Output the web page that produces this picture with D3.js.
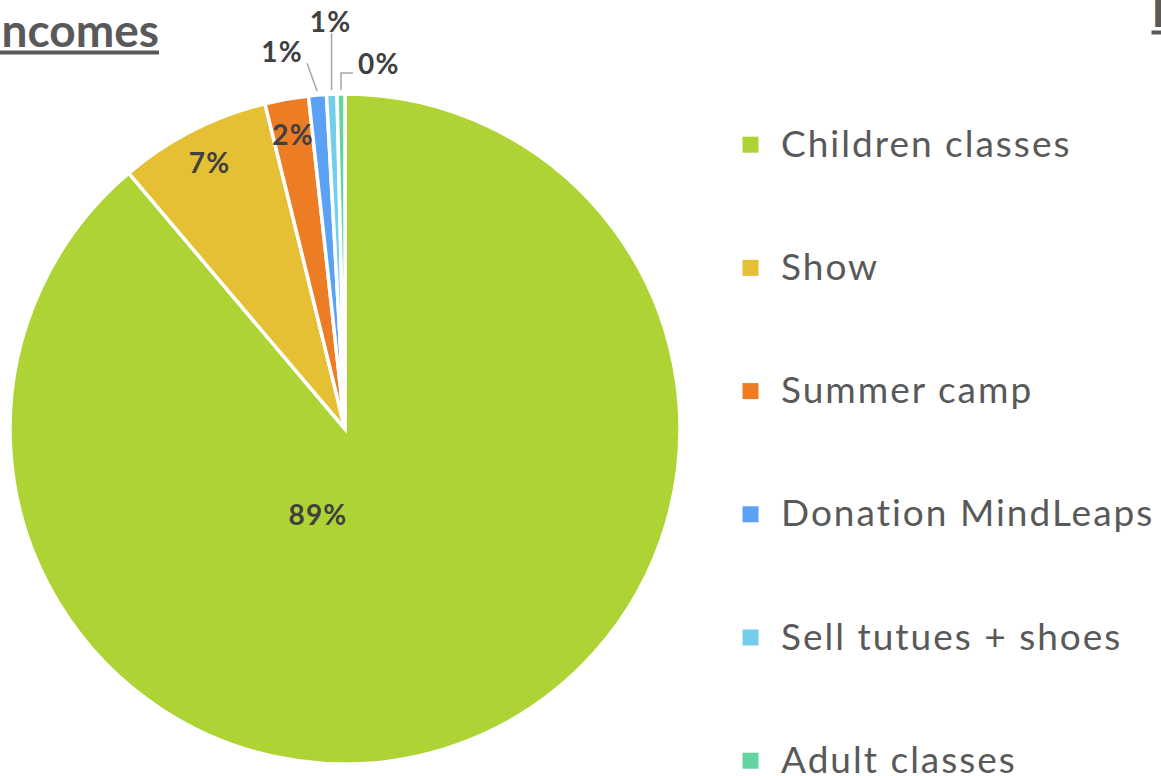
<!DOCTYPE html>
<html>
<head>
<meta charset="utf-8">
<script src="https://cdn.jsdelivr.net/npm/d3@7/dist/d3.min.js"></script>
<style>
  html, body { margin: 0; padding: 0; background: #fff; }
  svg { display: block; }
</style>
</head>
<body>
<svg id="chart" width="1161" height="776"></svg>
<script>
// ---- data ----
const categories = ["Children classes", "Show", "Summer camp", "Donation MindLeaps", "Sell tutues + shoes", "Adult classes"];
const values = [88.83, 7.33, 2.10, 0.86, 0.50, 0.38];
const colors = ["#ADD434", "#E6C034", "#ED7D24", "#5BA2F5", "#74CEEA", "#63D3A0"];
const titleText = "Incomes";
const secondTitleText = "Expenses";

// ---- layout ----
const W = 1161, H = 776;
const cx = 345, cy = 429, R = 335;
const svg = d3.select("#chart");
svg.append("rect").attr("width", W).attr("height", H).attr("fill", "#fff");

const total = d3.sum(values);
const data = categories.map((c, i) => ({ name: c, value: values[i], color: colors[i] }));
const pie = d3.pie().value(d => d.value).sort(null);
const arcs = pie(data);
const arc = d3.arc().innerRadius(0).outerRadius(R);

const g = svg.append("g").attr("transform", `translate(${cx},${cy})`);
g.selectAll("path.slice").data(arcs).join("path")
  .attr("class", "slice")
  .attr("d", arc)
  .attr("fill", d => d.data.color)
  .attr("stroke", "#fff")
  .attr("stroke-width", 3.5)
  .attr("stroke-linejoin", "miter");

const fmt = v => Math.round(v / total * 100) + "%";
const polar = (ang, rad) => [rad * Math.sin(ang), -rad * Math.cos(ang)];
const labelFont = "Lato, 'DejaVu Sans', sans-serif";

function pctLabel(x, y, anchor, txt, dy) {
  g.append("text")
    .attr("x", x).attr("y", y)
    .attr("dy", dy || null)
    .attr("text-anchor", anchor)
    .attr("font-family", labelFont)
    .attr("font-weight", "bold")
    .attr("font-size", 28)
    .attr("letter-spacing", 1.2)
    .attr("fill", "#404040")
    .text(txt);
}

// labels
arcs.forEach((d, i) => {
  const mid = (d.startAngle + d.endAngle) / 2;
  const span = d.endAngle - d.startAngle;
  if (span > Math.PI) {
    // largest slice: best-fit position
    const [tx, ty] = polar(197.4 * Math.PI / 180, 0.27 * R);
    pctLabel(tx, ty, "middle", fmt(d.value), "0.35em");
  } else if (span > 0.1) {
    const [tx, ty] = polar(mid, 0.89 * R);
    pctLabel(tx, ty, "middle", fmt(d.value), "0.35em");
  } else {
    // outside labels with leader lines
    const [x0, y0] = polar(mid, R + 4);
    let pts, lx, ly, anchor = "middle";
    if (i === 3) {
      pts = [[x0, y0], [x0 - 10, y0 - 28]];
      lx = x0 - 35; ly = y0 - 29;
    } else if (i === 4) {
      pts = [[x0, y0], [x0, y0 - 57]];
      lx = x0 - 1; ly = y0 - 58.5;
    } else {
      pts = [[x0, y0], [x0, y0 - 17], [x0 + 12, y0 - 17]];
      lx = x0 + 17; ly = y0 - 16.5;
      anchor = "start";
    }
    g.append("path")
      .attr("d", d3.line()(pts))
      .attr("fill", "none")
      .attr("stroke", "#A6A6A6")
      .attr("stroke-width", 1.5);
    pctLabel(lx, ly, anchor, fmt(d.value));
  }
});

// legend
const legendY0 = 144.7, legendStep = 123.2;
const leg = svg.append("g");
data.forEach((d, i) => {
  const y = legendY0 + i * legendStep;
  leg.append("rect")
    .attr("x", 742.5).attr("y", y - 8).attr("width", 16).attr("height", 16)
    .attr("fill", d.color);
  leg.append("text")
    .attr("x", 781).attr("y", y + 12)
    .attr("font-family", labelFont)
    .attr("font-size", 37)
    .attr("letter-spacing", 2)
    .attr("fill", "#595959")
    .text(d.name);
});

// titles (partially cut off, as in the reference)
function underlinedTitle(text, x, y, anchor) {
  const t = svg.append("text")
    .attr("x", x).attr("y", y)
    .attr("text-anchor", anchor)
    .attr("font-family", labelFont)
    .attr("font-weight", "bold")
    .attr("font-size", 46)
    .attr("fill", "#595959")
    .text(text);
  const bb = t.node().getBBox();
  svg.append("rect")
    .attr("x", bb.x).attr("y", y + 3.5)
    .attr("width", bb.width).attr("height", 4)
    .attr("fill", "#595959");
}
underlinedTitle(titleText, 159, 47, "end");
underlinedTitle(secondTitleText, 1151.5, 27, "start");
</script>
</body>
</html>
